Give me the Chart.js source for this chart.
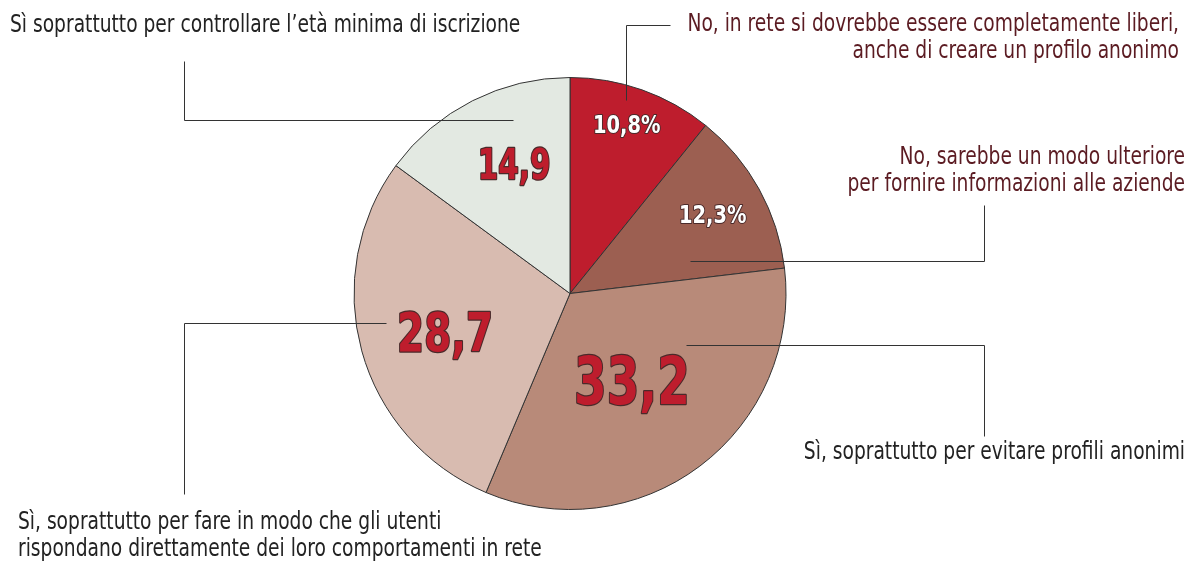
<!DOCTYPE html>
<html>
<head>
<meta charset="utf-8">
<script src="https://cdn.jsdelivr.net/npm/chart.js@4.4.0/dist/chart.umd.min.js"></script>
<style>
  html, body { margin: 0; padding: 0; background: #fff; }
  canvas { display: block; }
</style>
</head>
<body>
<canvas id="pie-chart" width="1188" height="563"></canvas>
<script>
// slices, clockwise from 12 o'clock
const categories = [
  'No, in rete si dovrebbe essere completamente liberi, anche di creare un profilo anonimo',
  'No, sarebbe un modo ulteriore per fornire informazioni alle aziende',
  'Sì, soprattutto per evitare profili anonimi',
  'Sì, soprattutto per fare in modo che gli utenti rispondano direttamente dei loro comportamenti in rete',
  'Sì soprattutto per controllare l’età minima di iscrizione'
];
const values = [10.8, 12.3, 33.2, 28.7, 14.9];
const valueLabels = ['10,8%', '12,3%', '33,2', '28,7', '14,9'];

// colors
const red = '#BE1D2D';
const brown = '#9C5F51';
const tan = '#B88A79';
const blush = '#D8BBB0';
const mint = '#E3E9E2';

const FONT = '"Liberation Sans Narrow", "DejaVu Sans Condensed", sans-serif';

// inside labels: radius fraction, nudge, size, fill, horizontal squeeze
const inner = [
  { r: 0.83, dx: -3, dy: 0, size: 24, fill: '#fff', sx: 0.9 },
  { r: 0.755, dx: 0, dy: 0, size: 24, fill: '#fff', sx: 0.9 },
  { r: 0.5, dx: -3, dy: 0, size: 66, fill: red, sx: 0.79 },
  { r: 0.6, dx: 0, dy: 3, size: 54, fill: red, sx: 0.8 },
  { r: 0.655, dx: 8, dy: -4, size: 42, fill: red, sx: 0.78 }
];

// outside callouts: text lines, leader path, text anchor
const callouts = [
  { lines: ['No, in rete si dovrebbe essere completamente liberi,', 'anche di creare un profilo anonimo'],
    color: '#5B1B22', align: 'right', x: 1179, y: 24, path: [[626, 100], [626, 25], [670, 25]] },
  { lines: ['No, sarebbe un modo ulteriore', 'per fornire informazioni alle aziende'],
    color: '#5B1B22', align: 'right', x: 1185, y: 157, path: [[690, 261], [984, 261], [984, 205]] },
  { lines: ['Sì, soprattutto per evitare profili anonimi'],
    color: '#222', align: 'right', x: 1185, y: 452, path: [[686, 345], [984, 345], [984, 436]] },
  { lines: ['Sì, soprattutto per fare in modo che gli utenti', 'rispondano direttamente dei loro comportamenti in rete'],
    color: '#222', align: 'left', x: 18, y: 522, path: [[386, 323], [184, 323], [184, 494]] },
  { lines: ['Sì soprattutto per controllare l’età minima di iscrizione'],
    color: '#222', align: 'left', x: 10, y: 25, path: [[513, 120], [184, 120], [184, 61]] }
];

// draws text squeezed horizontally around its anchor
function squeezed(ctx, text, x, y, sx, stroke) {
  ctx.save();
  ctx.translate(x, y);
  ctx.scale(sx, 1);
  if (stroke) ctx.strokeText(text, 0, 0);
  ctx.fillText(text, 0, 0);
  ctx.restore();
}

const labelPlugin = {
  id: 'pieLabels',
  afterDatasetsDraw(chart) {
    const ctx = chart.ctx;
    const meta = chart.getDatasetMeta(0);
    ctx.save();
    ctx.textAlign = 'center';
    ctx.textBaseline = 'alphabetic';
    ctx.lineJoin = 'round';
    meta.data.forEach((arc, i) => {
      const p = arc.getProps(['x', 'y', 'startAngle', 'endAngle', 'outerRadius'], true);
      const mid = (p.startAngle + p.endAngle) / 2;
      const rr = p.outerRadius * inner[i].r;
      const x = p.x + Math.cos(mid) * rr + inner[i].dx;
      // center the digits' cap height on the point
      const y = p.y + Math.sin(mid) * rr + inner[i].dy + inner[i].size * 0.365;
      ctx.font = 'bold ' + inner[i].size + 'px ' + FONT;
      ctx.lineWidth = inner[i].size > 30 ? 2.5 : 2;
      ctx.strokeStyle = '#4a2a2a';
      ctx.fillStyle = inner[i].fill;
      squeezed(ctx, valueLabels[i], x, y, inner[i].sx, true);
    });

    // leaders and callout text
    ctx.textBaseline = 'middle';
    ctx.strokeStyle = '#333';
    ctx.lineWidth = 1;
    callouts.forEach(c => {
      ctx.beginPath();
      c.path.forEach((pt, k) => k ? ctx.lineTo(pt[0] + 0.5, pt[1] + 0.5) : ctx.moveTo(pt[0] + 0.5, pt[1] + 0.5));
      ctx.stroke();
      ctx.font = '25px ' + FONT;
      ctx.fillStyle = c.color;
      ctx.textAlign = c.align;
      c.lines.forEach((t, k) => squeezed(ctx, t, c.x, c.y + k * 27.5, 0.83, false));
    });
    ctx.restore();
  }
};

new Chart(document.getElementById('pie-chart'), {
  type: 'pie',
  data: {
    labels: categories,
    datasets: [{
      data: values,
      backgroundColor: [red, brown, tan, blush, mint],
      borderColor: '#333',
      borderWidth: 1
    }]
  },
  options: {
    responsive: false,
    animation: false,
    layout: { padding: { top: 77, bottom: 53, left: 0, right: 48 } },
    plugins: {
      legend: { display: false },
      tooltip: { enabled: false }
    }
  },
  plugins: [labelPlugin]
});
</script>
</body>
</html>
